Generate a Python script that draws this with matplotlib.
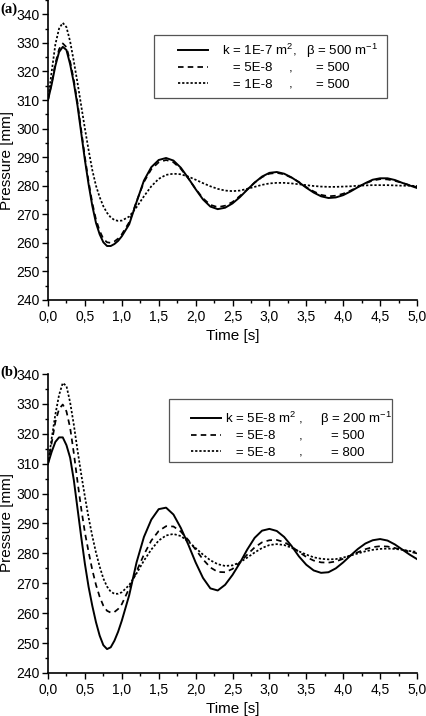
import matplotlib
matplotlib.use("Agg")
import matplotlib.pyplot as plt
from matplotlib.patches import Rectangle
from matplotlib.ticker import MultipleLocator, FuncFormatter

plt.rcParams['font.family'] = ['Liberation Sans', 'DejaVu Sans']
plt.rcParams['mathtext.fontset'] = 'custom'
plt.rcParams['mathtext.rm'] = 'Liberation Sans'
plt.rcParams['mathtext.it'] = 'Liberation Sans'

# time samples (s): fine steps early, 0.1 s later
t = [0.0, 0.05, 0.1, 0.15, 0.2, 0.25, 0.3, 0.35, 0.4, 0.45, 0.5,
     0.55, 0.6, 0.65, 0.7, 0.75, 0.8, 0.85, 0.9, 0.95, 1.0,
     1.1, 1.2, 1.3, 1.4, 1.5, 1.6, 1.7, 1.8, 1.9, 2.0,
     2.1, 2.2, 2.3, 2.4, 2.5, 2.6, 2.7, 2.8, 2.9, 3.0,
     3.1, 3.2, 3.3, 3.4, 3.5, 3.6, 3.7, 3.8, 3.9, 4.0,
     4.1, 4.2, 4.3, 4.4, 4.5, 4.6, 4.7, 4.8, 4.9, 5.0]

# panel (a): beta = 500, varying k
a_k1e7 = [310, 315.5, 322, 326.8, 328.6, 327.5, 322.5, 316, 308, 298.5, 289,
          280.5, 273, 267, 263, 260.2, 258.9, 258.9, 259.6, 260.7, 262.3,
          266.5, 274.3, 281.8, 286.5, 289, 289.7, 288.8, 286.3, 282.7, 278.8,
          275.2, 272.7, 271.8, 272.3, 273.8, 276.0, 278.6, 281.1, 283.2, 284.5,
          284.8, 284.2, 282.9, 281.2, 279.3, 277.6, 276.3, 275.7, 275.9, 276.7,
          278.0, 279.5, 280.9, 282.1, 282.6, 282.6, 282.0, 281.0, 280.1, 279.2]
a_k5e8 = [310, 316, 322.8, 327.8, 329.8, 328.5, 323.5, 317, 309, 299.5, 290,
          281.5, 274, 268.2, 264.2, 261.4, 260.2, 260, 260.5, 261.5, 263,
          267.2, 274.5, 281.3, 285.8, 288.2, 289, 288.2, 285.9, 282.6, 278.9,
          275.6, 273.3, 272.5, 273.0, 274.3, 276.4, 278.7, 281.1, 283.0, 284.2,
          284.5, 284.0, 282.8, 281.3, 279.5, 278.0, 276.8, 276.3, 276.5, 277.2,
          278.3, 279.6, 280.8, 281.8, 282.3, 282.2, 281.7, 281.0, 280.2, 279.5]
a_k1e8 = [310, 320, 329.5, 335, 337, 335.5, 330.5, 323.5, 316, 308, 300,
          292.5, 285.5, 280, 276, 272.8, 270.5, 268.9, 268, 267.7, 267.8,
          269.2, 272.5, 276.3, 279.8, 282.4, 283.8, 284.2, 284, 283.2, 282.1,
          280.9, 279.8, 278.9, 278.3, 278.1, 278.3, 278.9, 279.6, 280.3, 280.8,
          281.0, 281.0, 280.8, 280.5, 280.2, 279.9, 279.7, 279.6, 279.6, 279.7,
          279.8, 280.0, 280.1, 280.2, 280.2, 280.2, 280.1, 280.0, 280.0, 279.9]

# panel (b): k = 5E-8, varying beta
b_b200 = [310, 314, 317.3, 318.8, 318.8, 316.2, 312, 304.5, 295, 285.5, 276.5,
          268.8, 262.5, 257, 252.5, 249.3, 248, 248.6, 250.8, 253.8, 257.5,
          266, 277, 285.5, 291.3, 294.8, 295.3, 293, 288.5, 283, 277,
          271.8, 268.3, 267.6, 269.5, 272.8, 276.8, 281.3, 285.2, 287.6, 288.2,
          287.5, 285.5, 282.5, 279, 276.2, 274.3, 273.5, 273.7, 275, 277,
          279.3, 281.5, 283.3, 284.4, 284.8, 284.3, 283, 281.3, 279.6, 278.1]
b_b500 = [310, 317, 324, 328.3, 329.8, 327.5, 322, 313.5, 304, 295, 287,
          280.5, 274.5, 269.5, 265.5, 262.5, 260.8, 260.2, 260.4, 261.4, 263,
          268.3, 274, 279.6, 284.3, 287.5, 289.1, 289, 287.3, 284.5, 281.3,
          278, 275.3, 273.8, 273.7, 274.8, 277, 279.6, 282, 283.7, 284.4,
          284.5, 283.8, 282.3, 280.5, 278.8, 277.6, 277, 276.9, 277.3, 278.2,
          279.3, 280.4, 281.4, 282.1, 282.4, 282.3, 281.8, 281.2, 280.6, 280]
b_b800 = [310, 318.5, 326.5, 333, 337, 336, 330.5, 323, 314.5, 306.5, 299,
          292, 285.8, 280.3, 275.6, 271.6, 268.9, 267.2, 266.5, 266.5, 267,
          269.4, 273.3, 277.6, 281.3, 284.3, 286, 286.5, 285.8, 284, 281.8,
          279.6, 277.7, 276.4, 275.8, 276, 277, 278.6, 280.3, 281.8, 282.8,
          283.1, 282.8, 281.9, 280.7, 279.6, 278.7, 278.2, 278, 278.1, 278.6,
          279.3, 280, 280.7, 281.2, 281.5, 281.6, 281.5, 281.2, 280.8, 280.5]

# legend columns: k part, comma, beta part
k_a = [r"k = 1E-7 m$^2$,", "   = 5E-8", "   = 1E-8"]
beta_a = [r"$\beta$ = 500 m$^{-1}$", "= 500", "= 500"]
k_b = [r"k = 5E-8 m$^2$ ,", "   = 5E-8", "   = 5E-8"]
beta_b = [r"$\beta$ = 200 m$^{-1}$", "= 500", "= 800"]

W, H = 427, 716
fig = plt.figure(figsize=(W / 100, H / 100), dpi=100)

# axes placed in pixel terms: (left, top, width, height)
ax_a = fig.add_axes([48 / W, 1 - 300 / H, 369 / W, 300 / H])
ax_b = fig.add_axes([48 / W, 1 - 673 / H, 369 / W, 299 / H])
geom = {ax_a: (48, 0, 369, 300), ax_b: (48, 374, 369, 299)}


def px(ax, x, y):
    x0, y0, w, h = geom[ax]
    return (x - x0) / w, 1 - (y - y0) / h


styles = [dict(ls='-', lw=1.4),
          dict(ls=(0, (3.2, 2.4)), lw=1.25),
          dict(ls=(0, (1.3, 1.1)), lw=1.25)]

comma = FuncFormatter(lambda v, p: f"{v:.1f}".replace('.', ','))

for ax, series, labels, ytop, ylab_y in [(ax_a, [a_k1e7, a_k5e8, a_k1e8], k_a, 345, 160),
                                         (ax_b, [b_b200, b_b500, b_b800], k_b, 340, 523)]:
    for s, st, lab in zip(series, styles, labels):
        ax.plot(t, s, color='black', label=lab, **st)
    ax.set_xlim(0, 5)
    ax.set_ylim(240, ytop)
    ax.spines['top'].set_visible(False)
    ax.spines['right'].set_visible(False)
    ax.spines['left'].set_linewidth(1.2)
    ax.spines['bottom'].set_linewidth(1.2)
    ax.xaxis.set_major_locator(MultipleLocator(0.5))
    ax.xaxis.set_minor_locator(MultipleLocator(0.25))
    ax.set_yticks(list(range(240, 341, 10)))
    ax.yaxis.set_minor_locator(MultipleLocator(5))
    ax.xaxis.set_major_formatter(comma)
    ax.tick_params(which='major', direction='out', length=4, width=1, labelsize=10,
                   colors='black', pad=2)
    ax.tick_params(which='minor', direction='out', length=2.5, width=1)
    ax.tick_params(axis='x', which='major', pad=3)
    ax.set_xlabel("Time [s]", fontsize=11, labelpad=4)
    ax.set_ylabel("Pressure [mm]", fontsize=11)
    ax.yaxis.set_label_coords(px(ax, 14, 0)[0], px(ax, 0, ylab_y)[1])

legend_spec = [
    # ax, beta texts, box (x0, y0, x1, y1), handle start, first row top, pad, comma x, beta x
    (ax_a, beta_a, (154, 35, 387, 98), 178, 42, 1.0, 289, (306, 316)),
    (ax_b, beta_b, (169, 399, 392, 462), 191, 410, 0.3, 299, (320, 331)),
]

legs = []
for ax, betas, box, hx, rtop, tpad, cx, bx in legend_spec:
    x0, y0 = px(ax, box[0], box[3])
    x1, y1 = px(ax, box[2], box[1])
    ax.add_patch(Rectangle((x0, y0), x1 - x0, y1 - y0, transform=ax.transAxes,
                           facecolor='white', edgecolor='#555555', lw=0.9,
                           zorder=3, clip_on=False))
    leg = ax.legend(loc='upper left', bbox_to_anchor=px(ax, hx, rtop), frameon=False,
                    fontsize=9.5, handlelength=2.3, handletextpad=tpad,
                    labelspacing=0.3, borderpad=0, borderaxespad=0)
    leg.set_zorder(4)
    legs.append((ax, leg, betas, cx, bx))

# put the comma and beta columns on the legend rows
fig.canvas.draw()
for ax, leg, betas, cx, bx in legs:
    inv = ax.transAxes.inverted()
    for i, (txt, b) in enumerate(zip(leg.get_texts(), betas)):
        ydisp = txt.get_transform().transform(txt.get_position())[1]
        ya = inv.transform((0, ydisp))[1]
        if i > 0:
            ax.text(px(ax, cx, 0)[0], ya, ",", transform=ax.transAxes, fontsize=9.5,
                    va='baseline', ha='left', zorder=5)
        xb = bx[0] if i == 0 else bx[1]
        ax.text(px(ax, xb, 0)[0], ya, b, transform=ax.transAxes, fontsize=9.5,
                va='baseline', ha='left', zorder=5)

fig.text(0 / W, 1 - 13 / H, "(a)", family='Liberation Serif', weight='bold', fontsize=10.5)
fig.text(0 / W, 1 - 376 / H, "(b)", family='Liberation Serif', weight='bold', fontsize=10.5)

fig.savefig("out.png", dpi=100)
